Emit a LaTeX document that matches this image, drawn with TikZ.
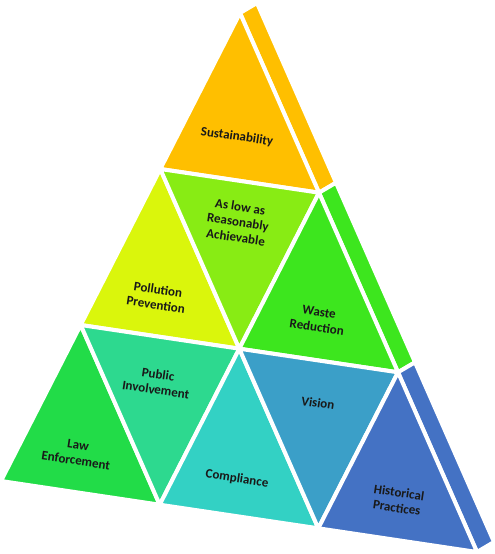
\documentclass[tikz,border=0pt]{standalone}
\usepackage{fontspec}
\setmainfont{Carlito}
\usetikzlibrary{calc}
\definecolor{sustain}{HTML}{FFBF00}
\definecolor{alara}{HTML}{88EC14}
\definecolor{pollution}{HTML}{DAF60C}
\definecolor{waste}{HTML}{3DE61E}
\definecolor{law}{HTML}{22DC48}
\definecolor{public}{HTML}{2DD98F}
\definecolor{comply}{HTML}{33D1C4}
\definecolor{vision}{HTML}{3B9FC8}
\definecolor{history}{HTML}{4472C4}
\tikzset{
  tri/.style={draw=white, line width=4pt, line join=round},
  lbl/.style={font=\bfseries\fontsize{13}{15.5}\selectfont, align=center, rotate=-8.5, text=black!90, inner sep=1pt}
}
\begin{document}
\begin{tikzpicture}[x=1pt, y=-1pt]
\useasboundingbox (0,0) rectangle (495,554);
% grid points of the pyramid
\coordinate (p00) at (240,13);
\coordinate (p10) at (160.3,169);
\coordinate (p11) at (319,192.7);
\coordinate (p20) at (80.7,325);
\coordinate (p21) at (239.3,348.7);
\coordinate (p22) at (398,372.3);
\coordinate (p30) at (1,481);
\coordinate (p31) at (159.7,504.7);
\coordinate (p32) at (318.3,528.3);
\coordinate (p33) at (477,552);
% side faces
\fill[tri, fill=sustain] (p00) -- ($(p00)+(17,-10)$) -- ($(p11)+(17,-10)$) -- (p11) -- cycle;
\fill[tri, fill=waste] (p11) -- ($(p11)+(17,-10)$) -- ($(p22)+(17,-10)$) -- (p22) -- cycle;
\fill[tri, fill=history] (p22) -- ($(p22)+(17,-10)$) -- ($(p33)+(17,-10)$) -- (p33) -- cycle;
% front faces
\filldraw[tri, fill=sustain] (p00) -- (p10) -- (p11) -- cycle;
\filldraw[tri, fill=pollution] (p10) -- (p20) -- (p21) -- cycle;
\filldraw[tri, fill=alara] (p10) -- (p11) -- (p21) -- cycle;
\filldraw[tri, fill=waste] (p11) -- (p21) -- (p22) -- cycle;
\filldraw[tri, fill=law] (p20) -- (p30) -- (p31) -- cycle;
\filldraw[tri, fill=public] (p20) -- (p21) -- (p31) -- cycle;
\filldraw[tri, fill=comply] (p21) -- (p31) -- (p32) -- cycle;
\filldraw[tri, fill=vision] (p21) -- (p22) -- (p32) -- cycle;
\filldraw[tri, fill=history] (p22) -- (p32) -- (p33) -- cycle;
% labels
\node[lbl] (sust) at (237,137) {Sustainability};
\node[lbl] (alaratext) at (238,222) {As low as\\Reasonably\\Achievable};
\node[lbl] (poll) at (157,297) {Pollution\\Prevention};
\node[lbl] (wastetext) at (318,320) {Waste\\Reduction};
\node[lbl] (pub) at (157,382) {Public\\Involvement};
\node[lbl] (lawtext) at (77,453) {Law\\Enforcement};
\node[lbl] (comp) at (237,479) {Compliance};
\node[lbl] (vis) at (318,403) {Vision};
\node[lbl] (hist) at (398,500) {Historical\\Practices};
\end{tikzpicture}
\end{document}
